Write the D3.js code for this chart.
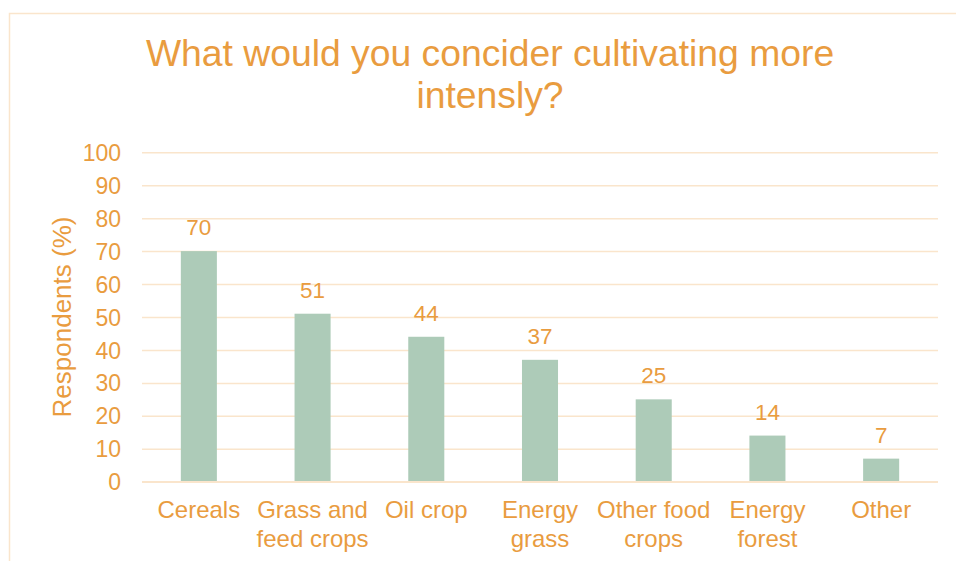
<!DOCTYPE html>
<html>
<head>
<meta charset="utf-8">
<script src="https://cdn.jsdelivr.net/npm/d3@7"></script>
<style>
  html, body { margin: 0; padding: 0; background: #fff; }
  svg { display: block; }
  text { font-family: "Liberation Sans", Arial, sans-serif; fill: #E99C3F; }
</style>
</head>
<body>
<svg id="chart" width="956" height="561"></svg>
<script>
// Survey answers: share of respondents per crop type
const categories = [
  ["Cereals"],
  ["Grass and", "feed crops"],
  ["Oil crop"],
  ["Energy", "grass"],
  ["Other food", "crops"],
  ["Energy", "forest"],
  ["Other"]
];
const values = [70, 51, 44, 37, 25, 14, 7];
const yTicks = [0, 10, 20, 30, 40, 50, 60, 70, 80, 90, 100];
const titleLines = ["What would you concider cultivating more", "intensly?"];
const yAxisTitle = "Respondents (%)";

const orange = "#E99C3F";
const barColor = "#ADCBB8";
const gridColor = "#FAE5CC";

const svg = d3.select("#chart");

// Outer chart frame (runs past the right and bottom edges)
svg.append("rect")
  .attr("x", 9.5).attr("y", 13.5)
  .attr("width", 1000).attr("height", 600)
  .attr("fill", "none")
  .attr("stroke", gridColor)
  .attr("stroke-width", 1.5);

const plot = { left: 142, right: 938, top: 152.3, bottom: 481.7 };

const keys = categories.map((c, i) => i);
const x = d3.scaleBand()
  .domain(keys)
  .range([plot.left, plot.right])
  .paddingInner(0.683)
  .paddingOuter(0.683 / 2);

const y = d3.scaleLinear()
  .domain([0, 100])
  .range([plot.bottom, plot.top]);

// Title
svg.append("text")
  .attr("x", 490)
  .attr("text-anchor", "middle")
  .attr("font-size", 37.3)
  .selectAll("tspan")
  .data(titleLines)
  .join("tspan")
  .attr("x", 490)
  .attr("y", (d, i) => 66 + i * 42)
  .text(d => d);

// Horizontal gridlines + y tick labels via axis
const yAxis = d3.axisLeft(y)
  .tickValues(yTicks)
  .tickSize(-(plot.right - plot.left))
  .tickPadding(21)
  .tickFormat(d3.format("d"));

const gy = svg.append("g")
  .attr("transform", `translate(${plot.left},0)`)
  .call(yAxis);
gy.select(".domain").remove();
gy.selectAll(".tick line")
  .attr("stroke", gridColor)
  .attr("stroke-width", 1.5);
gy.selectAll(".tick text")
  .attr("font-size", 23)
  .attr("font-family", "Liberation Sans, Arial, sans-serif")
  .attr("fill", orange)
  .attr("dy", "0.35em");

// Y axis title
svg.append("text")
  .attr("transform", `translate(71,${(plot.top + plot.bottom) / 2}) rotate(-90)`)
  .attr("text-anchor", "middle")
  .attr("font-size", 26)
  .text(yAxisTitle);

// Bars
svg.append("g")
  .selectAll("rect")
  .data(values)
  .join("rect")
  .attr("x", (d, i) => x(i))
  .attr("y", d => y(d))
  .attr("width", x.bandwidth())
  .attr("height", d => y(0) - y(d))
  .attr("fill", barColor);

// Baseline
svg.append("line")
  .attr("x1", plot.left).attr("x2", plot.right)
  .attr("y1", y(0)).attr("y2", y(0))
  .attr("stroke", gridColor)
  .attr("stroke-width", 1.5);

// Value labels
svg.append("g")
  .selectAll("text")
  .data(values)
  .join("text")
  .attr("x", (d, i) => x(i) + x.bandwidth() / 2)
  .attr("y", d => y(d) - 16)
  .attr("text-anchor", "middle")
  .attr("font-size", 22.5)
  .text(d => d);

// Category labels (wrapped onto two lines where needed)
const cat = svg.append("g")
  .selectAll("text")
  .data(categories)
  .join("text")
  .attr("text-anchor", "middle")
  .attr("font-size", 24);
cat.selectAll("tspan")
  .data((d, i) => d.map(line => ({ line, i })))
  .join("tspan")
  .attr("x", d => x(d.i) + x.bandwidth() / 2)
  .attr("y", (d, j) => 518 + j * 28.5)
  .text(d => d.line);
</script>
</body>
</html>
